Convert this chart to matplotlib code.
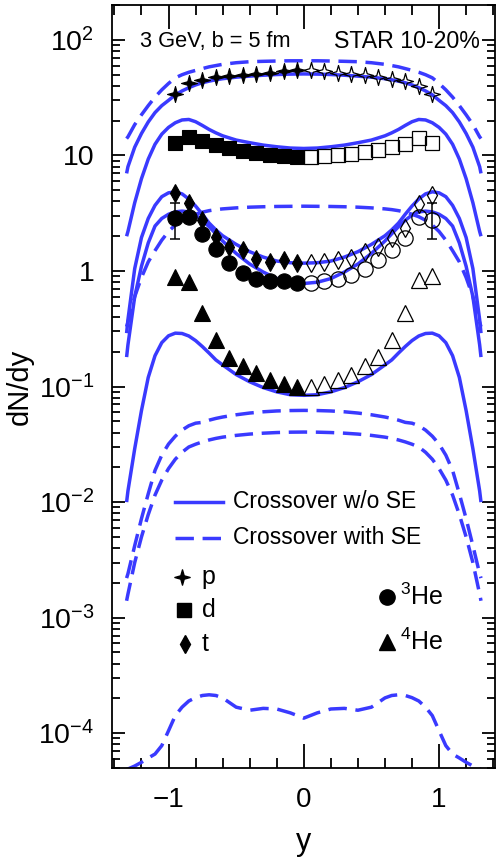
import numpy as np
import matplotlib
matplotlib.use("Agg")
import matplotlib.pyplot as plt
from matplotlib.path import Path
from matplotlib.ticker import FixedLocator, FixedFormatter, LogLocator, MultipleLocator, NullFormatter

plt.rcParams['font.family'] = ['Liberation Sans', 'DejaVu Sans']
plt.rcParams['mathtext.fontset'] = 'custom'
plt.rcParams['mathtext.rm'] = 'Liberation Sans'
plt.rcParams['mathtext.it'] = 'Liberation Sans:italic'

# ---- model curves (symmetric in y, given for y >= 0) ----
y_half = [0.0, 0.1, 0.2, 0.3, 0.4, 0.5, 0.6, 0.65, 0.7, 0.75, 0.8, 0.85, 0.9,
          0.95, 1.0, 1.05, 1.1, 1.15, 1.2, 1.25, 1.3, 1.31]

p_wo = [50.8, 50.6, 50.2, 49.5, 48.6, 47.6, 46.2, 45.2, 44.0, 42.6, 40.8, 38.6, 36.2,
        33.5, 30.0, 27.0, 23.5, 19.5, 15.5, 11.8, 8.0, 7.0]
p_with = [66.0, 66.0, 65.7, 65.3, 64.8, 63.5, 61.5, 60.0, 58.5, 56.5, 54.5, 52.5, 50.0,
          47.0, 42.0, 37.0, 32.0, 27.0, 22.5, 18.5, 14.5, 14.0]
d_wo = [11.5, 11.6, 11.9, 12.3, 12.9, 13.6, 14.8, 15.7, 16.8, 18.2, 19.6, 20.5, 20.3,
        19.2, 17.5, 15.3, 12.5, 9.3, 6.3, 3.9, 2.2, 2.0]
t_wo = [1.17, 1.18, 1.22, 1.32, 1.47, 1.70, 2.02, 2.27, 2.6, 3.1, 3.65, 4.2, 4.65,
        4.85, 4.75, 4.4, 3.7, 2.85, 1.95, 1.05, 0.38, 0.29]
he3_wo = [0.78, 0.80, 0.86, 0.98, 1.15, 1.42, 1.82, 2.1, 2.42, 2.75, 3.05, 3.25, 3.3,
          3.25, 3.1, 2.85, 2.45, 1.75, 1.1, 0.6, 0.23, 0.18]
mid_with = [3.64, 3.63, 3.62, 3.6, 3.57, 3.52, 3.45, 3.4, 3.33, 3.23, 3.1, 2.95, 2.75,
            2.5, 2.2, 1.85, 1.5, 1.2, 0.88, 0.6, 0.36, 0.33]
he4_wo = [0.084, 0.085, 0.09, 0.098, 0.11, 0.127, 0.154, 0.17, 0.195, 0.222, 0.25, 0.274, 0.288,
          0.29, 0.275, 0.24, 0.185, 0.12, 0.062, 0.029, 0.0125, 0.01]
low1_with = [0.0622, 0.062, 0.0615, 0.0605, 0.059, 0.057, 0.0545, 0.053, 0.0512, 0.049, 0.0482,
             0.0458, 0.042, 0.0372, 0.0318, 0.0255, 0.0188, 0.0118, 0.0072, 0.0042, 0.0024, 0.0022]
low2_with = [0.0404, 0.0403, 0.040, 0.0395, 0.0388, 0.0378, 0.0365, 0.0356, 0.0345, 0.0332, 0.0317,
             0.030, 0.027, 0.0235, 0.0195, 0.0155, 0.0115, 0.0078, 0.0050, 0.0030, 0.0016, 0.0014]
bot_with = [1.35e-4, 1.5e-4, 1.62e-4, 1.64e-4, 1.58e-4, 1.68e-4, 2.02e-4, 2.12e-4, 2.15e-4, 2.12e-4,
            2.03e-4, 1.9e-4, 1.68e-4, 1.42e-4, 1.05e-4, 7.8e-5, 6.6e-5, 6.1e-5, 5.6e-5, 5.2e-5,
            4.9e-5, 4.85e-5]

solid_curves = [p_wo, d_wo, t_wo, he3_wo, he4_wo]
dashed_curves = [p_with, mid_with, low1_with, low2_with, bot_with]

# ---- STAR data: filled for y<0, open (reflected) for y>0 ----
y_neg = [-0.95, -0.85, -0.75, -0.65, -0.55, -0.45, -0.35, -0.25, -0.15, -0.05]
y_pos = [0.05, 0.15, 0.25, 0.35, 0.45, 0.55, 0.65, 0.75, 0.85, 0.95]

p_neg = [34, 42, 45, 47.5, 48.7, 49.8, 50.7, 52.2, 53.9, 55]
p_pos = [55, 53.5, 52, 50.5, 49.5, 48, 46, 44, 40, 34]
d_neg = [12.9, 14.4, 13.3, 12.3, 11.6, 10.9, 10.5, 10.1, 9.9, 9.7]
d_pos = [9.75, 9.9, 10.1, 10.4, 10.8, 11.1, 11.9, 12.6, 14.1, 12.9]
t_neg = [4.70, 3.89, 2.75, 1.97, 1.62, 1.51, 1.28, 1.20, 1.24, 1.17]
t_pos = [1.17, 1.20, 1.24, 1.30, 1.46, 1.62, 1.94, 2.36, 3.84, 4.55]
he3_neg = [2.85, 2.94, 2.08, 1.54, 1.17, 0.97, 0.86, 0.82, 0.82, 0.79]
he3_pos = [0.79, 0.82, 0.86, 0.92, 1.05, 1.24, 1.52, 1.95, 2.94, 2.75]
he4_neg = [0.89, 0.81, 0.43, 0.255, 0.178, 0.150, 0.131, 0.115, 0.106, 0.099]
he4_pos = [0.100, 0.105, 0.114, 0.126, 0.150, 0.182, 0.255, 0.43, 0.83, 0.91]

# error bars on the outermost 3He points
he3_err_y = [-0.95, 0.95]
he3_err_val = [2.85, 2.75]
he3_err_lo = [0.94, 0.84]
he3_err_hi = [1.0, 1.1]

y_ticks = [1e-4, 1e-3, 1e-2, 1e-1, 1, 10, 100]
y_ticklabels = [r'$\mathregular{10^{-4}}$', r'$\mathregular{10^{-3}}$', r'$\mathregular{10^{-2}}$',
                r'$\mathregular{10^{-1}}$', '1', '10', r'$\mathregular{10^{2}}$']
x_ticks = [-1, 0, 1]
x_ticklabels = ['\u22121', '0', '1']

BLUE = '#3a3aff'
star = Path([(0, 1), (0.22, 0.22), (1, 0), (0.22, -0.22), (0, -1), (-0.22, -0.22),
             (-1, 0), (-0.22, 0.22), (0, 1)],
            [Path.MOVETO] + [Path.LINETO] * 7 + [Path.CLOSEPOLY])


def mirror(xh, yh):
    xh = np.asarray(xh)
    yh = np.asarray(yh)
    return np.concatenate([-xh[::-1], xh[1:]]), np.concatenate([yh[::-1], yh[1:]])


fig = plt.figure(figsize=(5.04, 8.6), dpi=100)
ax = fig.add_axes([0.223, 0.107, 0.759, 0.887])

for c in solid_curves:
    xx, yy = mirror(y_half, c)
    ax.plot(xx, yy, color=BLUE, lw=2.5, solid_capstyle='butt', zorder=2)
for c in dashed_curves:
    xx, yy = mirror(y_half, c)
    ax.plot(xx, yy, color=BLUE, lw=2.5, dashes=(5.3, 2.5), dash_capstyle='butt', zorder=2)

sets = [(p_neg, p_pos, star, 11.5), (d_neg, d_pos, 's', 10.5), (t_neg, t_pos, 'd', 9),
        (he3_neg, he3_pos, 'o', 11), (he4_neg, he4_pos, '^', 11)]
for neg, pos, m, ms in sets:
    ax.plot(y_neg, neg, ls='none', marker=m, ms=ms, mfc='black', mec='black', mew=0.8, zorder=4)
    ax.plot(y_pos, pos, ls='none', marker=m, ms=ms, mfc='none', mec='black', mew=0.9, zorder=4)

ax.errorbar(he3_err_y, he3_err_val, yerr=[he3_err_lo, he3_err_hi], fmt='none',
            ecolor='black', elinewidth=1.1, capsize=3.5, capthick=1.1, zorder=3)

ax.set_yscale('log')
ax.set_xlim(-1.415, 1.413)
ax.set_ylim(5e-5, 200)
ax.yaxis.set_major_locator(FixedLocator(y_ticks))
ax.yaxis.set_major_formatter(FixedFormatter(y_ticklabels))
ax.yaxis.set_minor_locator(LogLocator(base=10, subs=np.arange(2, 10)))
ax.yaxis.set_minor_formatter(NullFormatter())
ax.xaxis.set_major_locator(FixedLocator(x_ticks))
ax.xaxis.set_major_formatter(FixedFormatter(x_ticklabels))
ax.xaxis.set_minor_locator(MultipleLocator(0.2))

ax.tick_params(which='both', direction='in', top=True, right=True, width=1.3)
ax.tick_params(axis='x', which='major', length=17, pad=14, labelsize=20)
ax.tick_params(axis='x', which='minor', length=7)
ax.tick_params(axis='y', which='major', length=9.5, pad=13, labelsize=20.5)
ax.tick_params(axis='y', which='minor', length=5.5)
for s in ax.spines.values():
    s.set_linewidth(1.3)

ax.set_xlabel('y', fontsize=22, labelpad=10)
ax.set_ylabel('dN/dy', fontsize=21, labelpad=3)

ax.text(0.072, 0.952, '3 GeV, b = 5 fm', transform=ax.transAxes, fontsize=15.7, va='center', ha='left')
ax.text(0.961, 0.952, 'STAR 10-20%', transform=ax.transAxes, fontsize=16.7, va='center', ha='right')

# legend for model curves
ax.plot([0.164, 0.290], [0.3488, 0.3488], transform=ax.transAxes, color=BLUE, lw=2.5)
ax.plot([0.164, 0.290], [0.3021, 0.3021], transform=ax.transAxes, color=BLUE, lw=2.5,
        dashes=(5.3, 2.5))
ax.text(0.315, 0.3488, 'Crossover w/o SE', transform=ax.transAxes, fontsize=16.5, va='center')
ax.text(0.315, 0.3021, 'Crossover with SE', transform=ax.transAxes, fontsize=16.5, va='center')

# legend for particles
ax.plot([0.181], [0.2504], transform=ax.transAxes, marker=star, ms=11, color='black')
ax.plot([0.186], [0.2077], transform=ax.transAxes, marker='s', ms=10.5, color='black')
ax.plot([0.190], [0.1631], transform=ax.transAxes, marker='d', ms=9, color='black')
ax.plot([0.717], [0.2242], transform=ax.transAxes, marker='o', ms=11, color='black')
ax.plot([0.717], [0.1652], transform=ax.transAxes, marker='^', ms=11, color='black')
ax.text(0.234, 0.2504, 'p', transform=ax.transAxes, fontsize=18, va='center')
ax.text(0.234, 0.2077, 'd', transform=ax.transAxes, fontsize=18, va='center')
ax.text(0.234, 0.1631, 't', transform=ax.transAxes, fontsize=18, va='center')
ax.text(0.752, 0.2242, r'$^{3}$He', transform=ax.transAxes, fontsize=18, va='center')
ax.text(0.752, 0.1652, r'$^{4}$He', transform=ax.transAxes, fontsize=18, va='center')

fig.savefig('out.png', dpi=100)
